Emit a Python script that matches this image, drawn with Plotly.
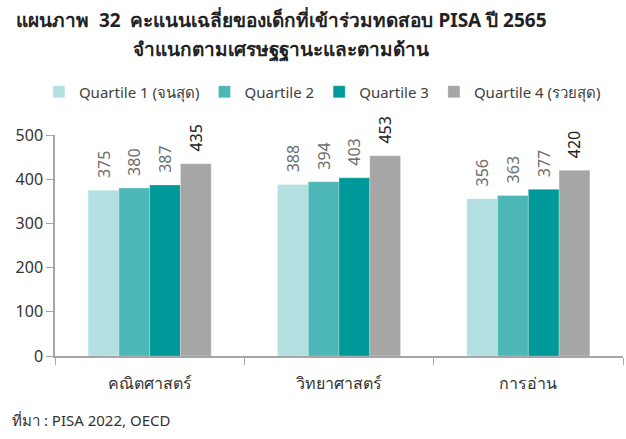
import plotly.graph_objects as go

# PISA 2022 mean scores by socio-economic quartile and subject
subjects = ["คณิตศาสตร์", "วิทยาศาสตร์", "การอ่าน"]
series_names = ["Quartile 1 (จนสุด)", "Quartile 2", "Quartile 3", "Quartile 4 (รวยสุด)"]
q1 = [375, 388, 356]
q2 = [380, 394, 363]
q3 = [387, 403, 377]
q4 = [435, 453, 420]
y_ticks = [0, 100, 200, 300, 400, 500]

colors = ["#B3E0E0", "#4DB6B6", "#009999", "#A6A6A6"]
label_colors = ["#6E6E6E", "#6E6E6E", "#6E6E6E", "#222222"]
FONT = "Noto Sans, Open Sans, sans-serif"

fig = go.Figure()
for name, vals, col, lcol in zip(series_names, [q1, q2, q3, q4], colors, label_colors):
    fig.add_trace(go.Bar(
        name=name,
        x=subjects,
        y=vals,
        marker=dict(color=col, line=dict(color="rgba(255,255,255,0.5)", width=0.5)),
        # leading figure space keeps a small gap between bar top and rotated label
        text=["\u2007" + str(v) for v in vals],
        textposition="outside",
        textangle=-90,
        textfont=dict(family=FONT, size=16, color=lcol),
        cliponaxis=False,
        constraintext="none",
    ))

fig.update_layout(
    width=626,
    height=439,
    barmode="group",
    bargap=0.35,
    bargroupgap=0,
    plot_bgcolor="white",
    paper_bgcolor="white",
    margin=dict(l=55, r=3, t=135, b=83),
    font=dict(family=FONT, size=16, color="#333333"),
    legend=dict(
        orientation="h",
        xref="container",
        x=0.515,
        xanchor="center",
        yref="container",
        y=1 - 92 / 439,
        yanchor="middle",
        font=dict(family=FONT, size=15, color="#404040"),
        itemwidth=30,
        tracegroupgap=0,
        traceorder="normal",
    ),
    showlegend=True,
)

fig.update_yaxes(
    range=[0, 500],
    tickvals=y_ticks,
    showgrid=False,
    zeroline=False,
    showline=True,
    linecolor="#A6A6A6",
    linewidth=1.5,
    ticks="outside",
    ticklen=7,
    tickcolor="#A6A6A6",
    tickfont=dict(size=16, color="#333333"),
)
fig.update_xaxes(
    showline=True,
    linecolor="#A6A6A6",
    linewidth=1.5,
    ticks="outside",
    tickson="boundaries",
    ticklen=7,
    tickcolor="#A6A6A6",
    ticklabelstandoff=12,
    tickfont=dict(size=16, color="#333333"),
)

# Two-line bold heading
title_lines = [
    "แผนภาพ  32  คะแนนเฉลี่ยของเด็กที่เข้าร่วมทดสอบ PISA ปี 2565",
    "จำแนกตามเศรษฐฐานะและตามด้าน",
]
for line, ypos in zip(title_lines, [1.52, 1.385]):
    fig.add_annotation(
        text="<b>" + line + "</b>",
        xref="paper", yref="paper",
        x=0.398, y=ypos,
        xanchor="center", yanchor="middle",
        showarrow=False,
        font=dict(family=FONT, size=19, color="#222222"),
    )

fig.add_annotation(
    text="ที่มา : PISA 2022, OECD",
    xref="paper", yref="paper",
    x=-0.079, y=-0.29,
    xanchor="left", yanchor="middle",
    showarrow=False,
    font=dict(family=FONT, size=15, color="#333333"),
)

fig.write_html("out.html")
